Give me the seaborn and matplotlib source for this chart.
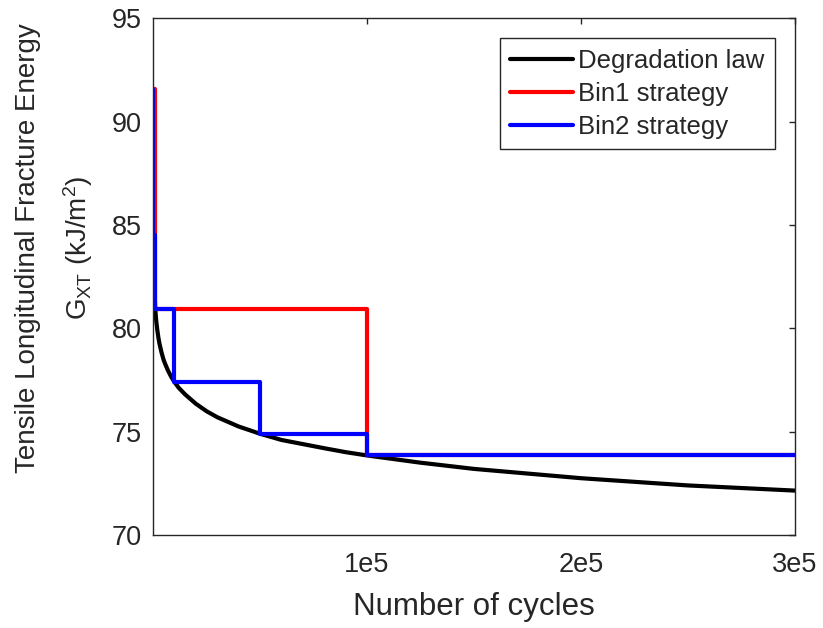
import numpy as np
import pandas as pd
import matplotlib
matplotlib.use("Agg")
import matplotlib.pyplot as plt
import seaborn as sns

# Degradation law: fracture energy versus number of cycles
law_cycles = [1, 10, 100, 300, 1000, 1500, 2000, 2500, 3000, 4000, 5000, 6000,
              7000, 8500, 1e4, 1.2e4, 1.5e4, 2e4, 2.5e4, 3e4, 4e4, 5e4, 6e4,
              7e4, 8e4, 9e4, 1e5, 1.25e5, 1.5e5, 2e5, 2.5e5, 3e5]
law_energy = [91.6, 88.05, 84.5, 82.8, 80.95, 80.33, 79.9, 79.54, 79.25, 78.81,
              78.45, 78.19, 77.95, 77.65, 77.4, 77.12, 76.8, 76.35, 75.99,
              75.7, 75.25, 74.9, 74.6, 74.4, 74.2, 74.01, 73.85, 73.5, 73.2,
              72.75, 72.4, 72.15]

# Bin1 strategy: bin start cycles and the held energy value
bin1_cycles = [1, 1000, 1e5, 3e5]
bin1_energy = [91.6, 80.95, 73.85, 73.85]

# Bin2 strategy: finer bins
bin2_cycles = [1, 100, 1000, 1e4, 5e4, 1e5, 3e5]
bin2_energy = [91.6, 84.5, 80.95, 77.4, 74.9, 73.85, 73.85]

x_ticks = [1e5, 2e5, 3e5]
x_tick_labels = ["1e5", "2e5", "3e5"]
y_ticks = [70, 75, 80, 85, 90, 95]

sns.set_style("white")
plt.rcParams["font.family"] = ["Liberation Sans", "DejaVu Sans"]
plt.rcParams["mathtext.fontset"] = "custom"
plt.rcParams["mathtext.rm"] = "Liberation Sans"
plt.rcParams["mathtext.it"] = "Liberation Sans"

axis_color = "#262626"
lw = 3.0

fig = plt.figure(figsize=(8.23, 6.28), dpi=100)
ax = fig.add_axes([0.186, 0.148, 0.78, 0.823])

law_df = pd.DataFrame({"cycles": law_cycles, "energy": law_energy})
bin1_df = pd.DataFrame({"cycles": bin1_cycles, "energy": bin1_energy})
bin2_df = pd.DataFrame({"cycles": bin2_cycles, "energy": bin2_energy})

sns.lineplot(data=law_df, x="cycles", y="energy", ax=ax, color="black",
             linewidth=lw, label="Degradation law")
sns.lineplot(data=bin1_df, x="cycles", y="energy", ax=ax, color="#ff0000",
             linewidth=lw, drawstyle="steps-post", label="Bin1 strategy")
sns.lineplot(data=bin2_df, x="cycles", y="energy", ax=ax, color="#0000ff",
             linewidth=lw, drawstyle="steps-post", label="Bin2 strategy")

ax.set_xlim(0, 3e5)
ax.set_ylim(70, 95)
ax.set_xticks(x_ticks)
ax.set_xticklabels(x_tick_labels)
ax.set_yticks(y_ticks)

ax.tick_params(axis="both", which="both", direction="in", length=4.5, width=1,
               colors=axis_color, labelsize=19.5, top=True, right=True)
ax.tick_params(axis="x", pad=12.5)
ax.tick_params(axis="y", pad=8)
for s in ax.spines.values():
    s.set_color(axis_color)
    s.set_linewidth(1.0)

ax.set_xlabel("Number of cycles", fontsize=22.5, color=axis_color, labelpad=10)
ax.set_ylabel("Tensile Longitudinal Fracture Energy\n"
              r"G$_{\mathrm{XT}}$ (kJ/m$^{2}$)",
              fontsize=20, color=axis_color, linespacing=1.8)
ax.yaxis.set_label_coords(-0.090, 0.555)

leg = ax.legend(loc="upper right", fontsize=18.5, frameon=True, fancybox=False,
                handlelength=2.45, handletextpad=0.2, borderpad=0.4,
                labelspacing=0.35, borderaxespad=0.78)
leg.get_frame().set_edgecolor(axis_color)
leg.get_frame().set_linewidth(1.0)
leg.get_frame().set_alpha(1.0)
for line in leg.get_lines():
    line.set_linewidth(lw)

fig.savefig("out.png", dpi=100)
